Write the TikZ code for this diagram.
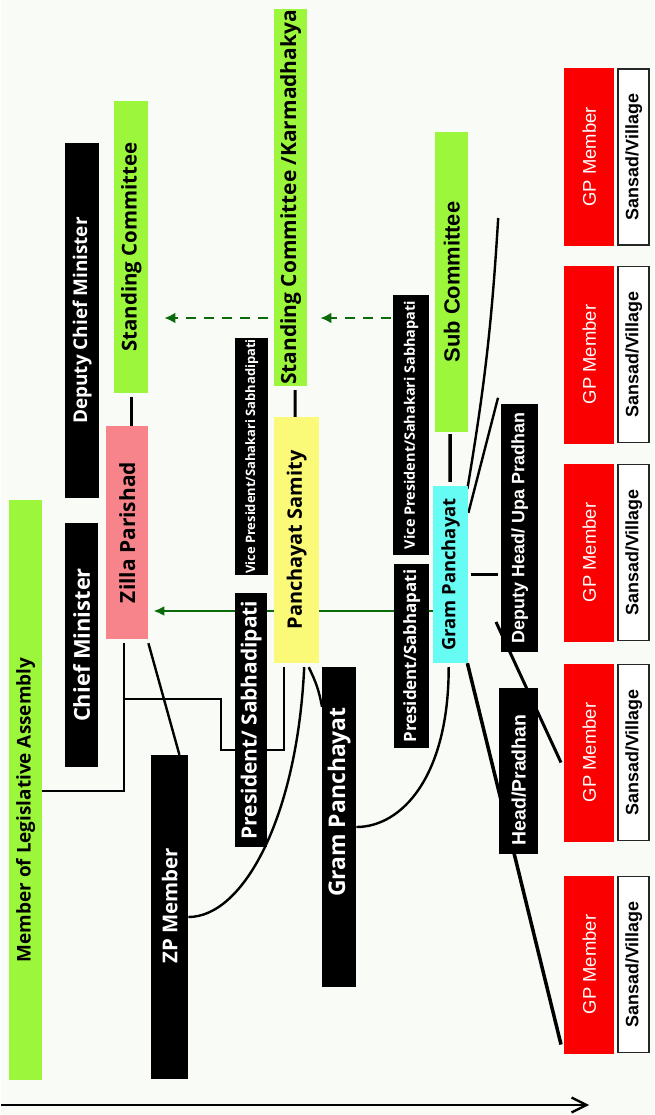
\documentclass[tikz,border=0pt]{standalone}
\usepackage{fontspec}
\setmainfont{Open Sans}
\newfontfamily\arialf{Liberation Sans}
\usetikzlibrary{arrows.meta,backgrounds}
\definecolor{bgc}{HTML}{F9FBF6}
\definecolor{grn}{HTML}{9CF73C}
\definecolor{pnk}{HTML}{F7838B}
\definecolor{ylw}{HTML}{FAFA78}
\definecolor{cyn}{HTML}{66FCF4}
\definecolor{rd}{HTML}{FA0000}
\definecolor{dgrn}{HTML}{0B6B0B}
\newcommand\fsz[1]{\fontsize{#1}{#1}\selectfont}
\begin{document}
\begin{tikzpicture}[x=1bp,y=-1bp,
 box/.style={rotate=90,inner sep=0pt},
 ob/.style={font=\bfseries\fsz{#1}},
 ab/.style={font=\arialf\bfseries\fsz{#1}},
 blk/.style={box,fill=black,text=white},
 sz/.style 2 args={minimum width=#1bp,minimum height=#2bp},
 ln/.style={line width=2.4bp},
 gline/.style={dgrn,line width=2.4bp},
 dasharrow/.style={gline,dash pattern=on 10bp off 8bp,-{Latex[length=11bp,width=11bp]}}]
\node[box,fill=grn,sz={580}{33},ob=19] (mla) at (24.5,790) {Member of Legislative Assembly\hspace*{40bp}};
\node[blk,sz={244}{33},ob=22] (cm) at (80.5,645) {Chief Minister};
\node[blk,sz={355}{34},ob=19] (dcm) at (81,320.5) {Deputy Chief Minister};
\node[box,fill=pnk,sz={213}{42},ob=21] (zp) at (126,532.5) {Zilla Parishad};
\node[box,fill=grn,sz={292}{34},ob=20.5] (sc1) at (130,247) {Standing Committee};
\node[blk,sz={324}{37},ob=20.5] (zpm) at (168.5,917) {\hspace*{22bp}ZP Member};
\node[blk,sz={254}{32},ob=21] (pres1) at (250,720) {President/ Sabhadipati};
\node[blk,sz={237}{33},ob=13] (vp1) at (250.5,456.5) {Vice President/Sahakari Sabhadipati};
\node[box,fill=ylw,sz={246}{45},ob=20] (ps) at (295.5,540) {Panchayat Samity};
\node[box,fill=grn,sz={377}{33},ob=21] (sck) at (289.5,197.5) {Standing Committee /Karmadhakya};
\node[blk,sz={320}{34},ob=23] (gpb) at (338,827) {\hspace*{50bp}Gram Panchayat};
\node[blk,sz={184}{35},ob=17] (pres2) at (410.5,656) {President/Sabhapati};
\node[blk,sz={260}{36},ob=14.5] (vp2) at (410,425) {Vice President/Sahakari Sabhapati};
\node[box,fill=cyn,sz={177}{35},ob=18.5] (gp) at (449.5,574.5) {Gram Panchayat};
\node[box,fill=grn,sz={300}{33},ab=22] (subc) at (450.5,282) {Sub Committee};
\node[blk,sz={248}{37},ab=18] (dh) at (518.5,528) {Deputy Head/ Upa Pradhan};
\node[blk,sz={166}{39},ab=19.5] (head) at (517.5,771) {Head/Pradhan\hspace*{18bp}};
\foreach \i/\yc in {1/157,2/354.5,3/552.5,4/752.5,5/964.5}{
 \node[box,fill=rd,text=white,sz={178}{50},font=\arialf\fsz{18.5}] (gpm\i) at (588,\yc) {GP Member};
 \node[box,fill=white,draw=black!85,line width=1.8bp,sz={176}{31},ab=18] (sv\i) at (632.5,\yc) {Sansad/Village};
}
%
\begin{scope}[on background layer]
\fill[bgc] (0,0) rectangle (653,1115);
\coordinate (dy) at (0,318);
\coordinate (gy) at (0,611);
\coordinate (y699) at (0,699);
\coordinate (y791) at (0,791);
\coordinate (elb) at (220,750);
\coordinate (e1) at (497,218);
\coordinate (zpb) at ([xshift=-3bp,yshift=-4bp]zp.west);
\draw[dasharrow,shorten <=6bp,shorten >=16bp] (sck.north |- dy) -- (sc1.south |- dy);
\draw[dasharrow,shorten <=8bp,shorten >=13bp] (subc.north |- dy) -- (sck.south |- dy);
\draw[gline,-{Latex[length=11bp,width=10bp]},shorten >=5bp] (gp.north |- gy) -- (zp.south |- gy);
%
\draw[line width=3bp] ([yshift=-4bp]sc1.west) -- (sc1.west |- zp.east);
\draw[line width=3bp] ([xshift=4.5bp,yshift=-4bp]sck.west) -- ([xshift=-1.5bp]ps.east);
\draw[line width=3.5bp] ([xshift=-1.5bp,yshift=-2bp]subc.west) -- ([xshift=-0.5bp,yshift=4bp]gp.east);
\draw[line width=3bp] ([xshift=3bp]gp.south) -- ([xshift=-3bp]gp.south -| dh.north);
%
\draw[ln] (mla.south |- y791) -| (zpb);
\draw[ln] (zpb |- y699) -| (elb) -| ([xshift=-12.5bp,yshift=-4bp]ps.west);
\draw[ln] ([yshift=-4bp]zp.south west) -- ([xshift=-9bp]zpm.south east);
\draw[ln] ([xshift=7.5bp,yshift=-4bp]ps.west) .. controls +(-7,150) and +(55,0) .. (zpm.south);
\draw[ln] ([xshift=12bp,yshift=-4bp]ps.west) to[bend left=8] ([yshift=-40bp]gpb.north east);
\draw[ln] ([xshift=-2bp,yshift=-4bp]gp.west) .. controls +(0,110) and +(45,0) .. (gpb.south);
%
\draw[ln] ([xshift=-1bp,yshift=-3bp]gp.south east) to[bend right=3] (e1);
\draw[ln] ([yshift=-27bp]gp.south east) -- ([xshift=-3bp,yshift=6bp]dh.north east);
\draw[line width=3bp] ([xshift=-5bp,yshift=-94bp]dh.north) -- ([xshift=-3bp,yshift=-10bp]gpm4.north);
\draw[line width=3.5bp] ([xshift=-1bp]gp.south west) -- ([xshift=-3bp,yshift=-80bp]gpm5.north);
\end{scope}
\coordinate (ax0) at (0,1105);
\coordinate (ax1) at (588,1105);
\draw[line width=2.4bp,-{Straight Barb[length=15bp,width=15bp]}] (ax0) -- (ax1);
\end{tikzpicture}
\end{document}
